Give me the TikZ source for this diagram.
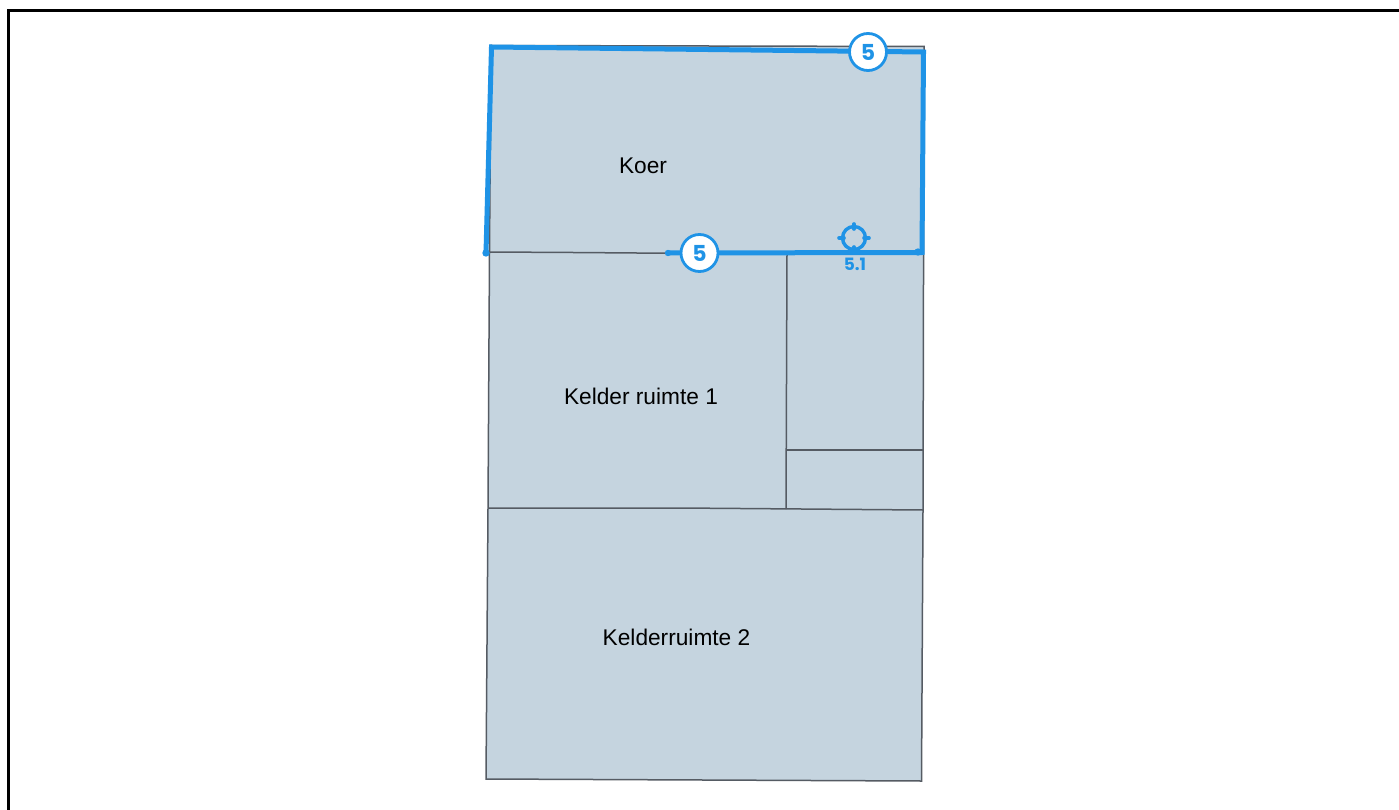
\documentclass[tikz,border=0pt]{standalone}
\usepackage{fontspec}
\setmainfont{Liberation Sans}
\newfontfamily\badgefont{Poppins}
\definecolor{roomfill}{HTML}{C5D4DF}
\definecolor{wallgrey}{HTML}{555B63}
\definecolor{markblue}{HTML}{1F93E6}
\tikzset{
  x=1pt,y=-1pt,
  wall/.style={draw=wallgrey,line width=1.5pt},
  route/.style={draw=markblue,line width=5pt,line join=miter},
  badge/.style={circle,draw=markblue,fill=white,line width=2.8pt,minimum size=37pt,inner sep=0pt,text=markblue,font=\badgefont\bfseries\fontsize{22}{22}\selectfont},
  roomlabel/.style={font=\fontsize{22.7}{26}\selectfont,text=black,inner sep=0pt},
  tinylabel/.style={font=\badgefont\bfseries\fontsize{17}{17}\selectfont,text=markblue,inner sep=0pt},
}
\begin{document}
\begin{tikzpicture}
\useasboundingbox (0,0) rectangle (1399,810);
\fill[white] (0,0) rectangle (1399,810);
\draw[black,line width=3pt] (8.5,810) -- (8.5,10.5) -- (1399,10.5);
% rooms
\fill[roomfill] (491,45.5) -- (924,46.5) -- (923,510) -- (921.5,781) -- (486,779) -- (488,508) -- (489.5,252) -- cycle;
\draw[wall] (491,45.5) -- (924,46.5) -- (923,510) -- (921.5,781) -- (486,779) -- (488,508) -- (489.5,252) -- cycle;
\draw[wall] (489.5,252) -- (573,252.5) -- (700,253.5) -- (923,253);
\draw[wall] (488,508) -- (680,508) -- (923,510);
\draw[wall] (787,253) -- (786,509);
\draw[wall] (786.5,450) -- (923,450);
% route
\coordinate (r1) at (486,253);
\coordinate (r2) at (491.5,47);
\coordinate (r3) at (923.5,52);
\coordinate (r4) at (922,252.5);
\coordinate (r5) at (668,253);
\coordinate (r6) at (918,252);
\draw[route] (r1) -- (r2) -- (r3) -- (r4) -- (r5);
\fill[markblue] (r1) circle (3.7);
\fill[markblue] (r6) circle (3.7);
\fill[markblue] (r5) circle (3.2);
% badges
\node[badge] (b1) at (868,52) {5};
\node[badge] (b2) at (699.5,253) {5};
% target
\draw[markblue,line width=3.4pt] (854,238) circle (11.5);
\foreach \a/\b/\c/\d in {854/224/854/229,854/247/854/251,839/238/844/238,864/238/869/238}
  \draw[markblue,line width=3.6pt,line cap=round] (\a,\b) -- (\c,\d);
\node[tinylabel] (t) at (855,264) {5.1};
% labels
\node[roomlabel] (koer) at (643,165.5) {Koer};
\node[roomlabel] (k1) at (641,396) {Kelder ruimte 1};
\node[roomlabel] (k2) at (676.5,637) {Kelderruimte 2};
\end{tikzpicture}
\end{document}
